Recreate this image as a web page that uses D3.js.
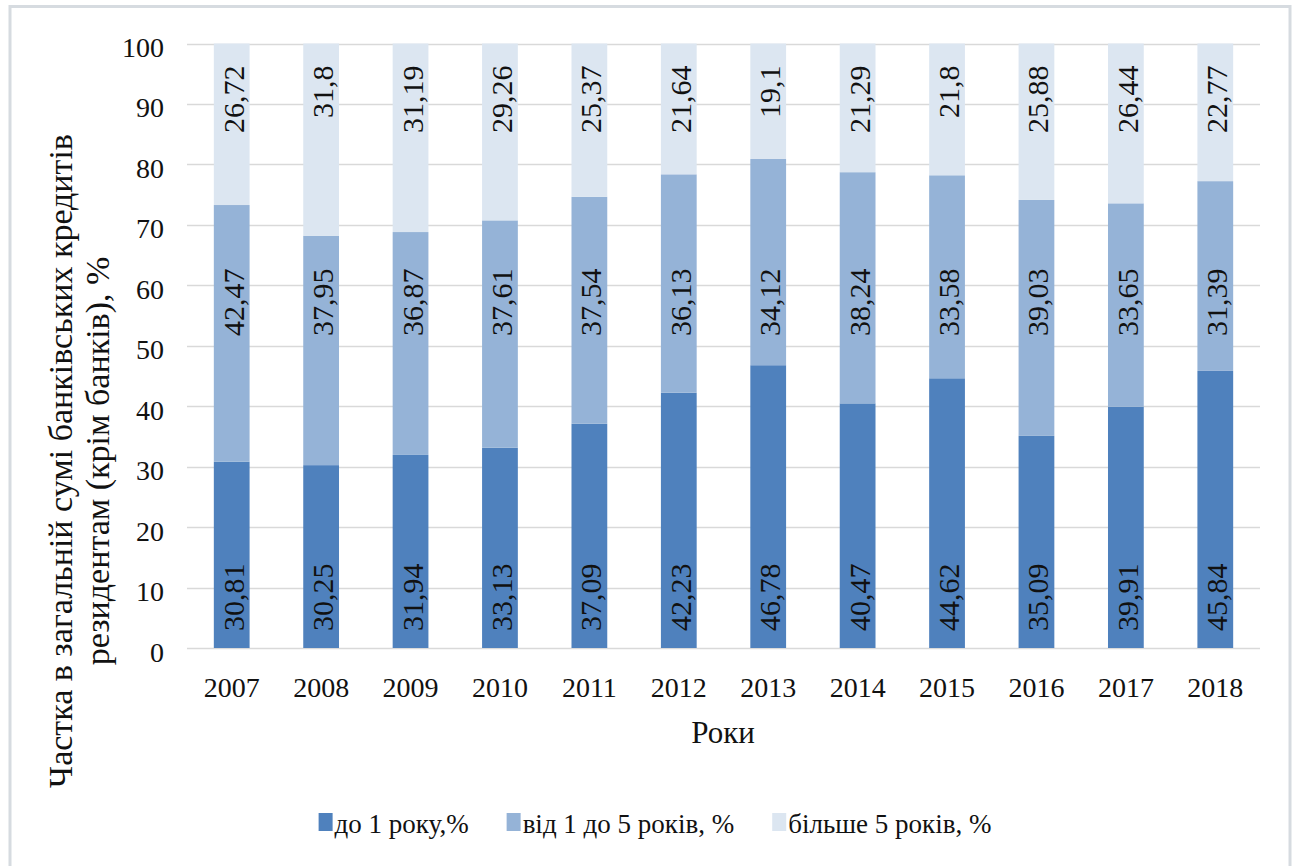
<!DOCTYPE html>
<html>
<head>
<meta charset="utf-8">
<script src="https://cdn.jsdelivr.net/npm/d3@7"></script>
<style>
  body { margin: 0; background: #fff; }
  svg text { fill: #111; }
</style>
</head>
<body>
<script>
// дані
const years = ["2007", "2008", "2009", "2010", "2011", "2012", "2013", "2014", "2015", "2016", "2017", "2018"];
const upTo1 = [30.81, 30.25, 31.94, 33.13, 37.09, 42.23, 46.78, 40.47, 44.62, 35.09, 39.91, 45.84];
const from1to5 = [42.47, 37.95, 36.87, 37.61, 37.54, 36.13, 34.12, 38.24, 33.58, 39.03, 33.65, 31.39];
const over5 = [26.72, 31.8, 31.19, 29.26, 25.37, 21.64, 19.1, 21.29, 21.8, 25.88, 26.44, 22.77];
const seriesNames = ["до 1 року,%", "від 1 до 5 років, %", "більше 5 років, %"];
const yTicks = [0, 10, 20, 30, 40, 50, 60, 70, 80, 90, 100];
const colors = ["#4f81bd", "#95b3d7", "#dce6f1"];

const rows = years.map((y, i) => ({ year: y, s0: upTo1[i], s1: from1to5[i], s2: over5[i] }));
const keys = ["s0", "s1", "s2"];

const W = 1296, H = 866;
const svg = d3.select("body").append("svg")
  .attr("width", W).attr("height", H)
  .attr("font-family", "'Liberation Serif', 'Times New Roman', 'DejaVu Serif', serif");

// рамка
svg.append("rect")
  .attr("x", 10).attr("y", 6.5).attr("width", 1280).attr("height", 890)
  .attr("fill", "none").attr("stroke", "#d6dbe0").attr("stroke-width", 3);

const x = d3.scaleBand().domain(years).range([187, 1260]).paddingInner(0.6).paddingOuter(0.3);
const y = d3.scaleLinear().domain([0, 100]).range([648, 43.5]);

// сітка
svg.append("g").selectAll("line").data(yTicks).join("line")
  .attr("x1", 187).attr("x2", 1260)
  .attr("y1", d => Math.round(y(d)) + 0.5).attr("y2", d => Math.round(y(d)) + 0.5)
  .attr("stroke", "#d9d9d9").attr("stroke-width", 1.3);

// підписи осі Y
svg.append("g").selectAll("text").data(yTicks).join("text")
  .attr("x", 164).attr("y", d => y(d) + 13.5)
  .attr("text-anchor", "end").attr("font-size", 28)
  .text(d => d);

// підписи осі X
svg.append("g").selectAll("text").data(years).join("text")
  .attr("x", d => x(d) + x.bandwidth() / 2).attr("y", 697)
  .attr("text-anchor", "middle").attr("font-size", 28)
  .text(d => d);

// стовпці
const stacked = d3.stack().keys(keys)(rows);
const layers = svg.append("g").selectAll("g").data(stacked).join("g")
  .attr("fill", (d, i) => colors[i]);
layers.selectAll("rect").data(d => d).join("rect")
  .attr("x", d => x(d.data.year))
  .attr("width", x.bandwidth())
  .attr("y", d => y(d[1]))
  .attr("height", d => y(d[0]) - y(d[1]));

// підписи значень
const fmt = v => String(v).replace(".", ",");
const lbl = svg.append("g").attr("font-size", 30);
stacked.forEach((layer, li) => {
  layer.forEach(d => {
    const cx = x(d.data.year) + x.bandwidth() / 2 + 12;
    let ty, anchor;
    if (li === 0) { ty = y(0) - 17; anchor = "start"; }
    else if (li === 1) { ty = y(57.2); anchor = "middle"; }
    else { ty = y(100) + 22; anchor = "end"; }
    lbl.append("text")
      .attr("transform", `translate(${cx},${ty}) rotate(-90)`)
      .attr("text-anchor", anchor)
      .text(fmt(d.data[keys[li]]));
  });
});

// назви осей
svg.append("text")
  .attr("transform", "translate(72,461) rotate(-90)")
  .attr("text-anchor", "middle").attr("font-size", 34)
  .text("Частка в загальній сумі банківських кредитів");
svg.append("text")
  .attr("transform", "translate(109,461) rotate(-90)")
  .attr("text-anchor", "middle").attr("font-size", 34)
  .text("резидентам (крім банків), %");
svg.append("text")
  .attr("x", 723).attr("y", 743)
  .attr("text-anchor", "middle").attr("font-size", 31)
  .text("Роки");

// легенда
const leg = svg.append("g");
let lx = 0;
seriesNames.forEach((name, i) => {
  const g = leg.append("g").attr("transform", `translate(${lx},0)`);
  g.append("rect").attr("x", 0).attr("y", 813).attr("width", 14).attr("height", 18).attr("fill", colors[i]);
  const t = g.append("text").attr("x", 16).attr("y", 833).attr("font-size", 27).text(name);
  lx += 16 + t.node().getComputedTextLength() + 38;
});
const legW = lx - 38;
leg.attr("transform", `translate(${655 - legW / 2},0)`);
</script>
</body>
</html>
